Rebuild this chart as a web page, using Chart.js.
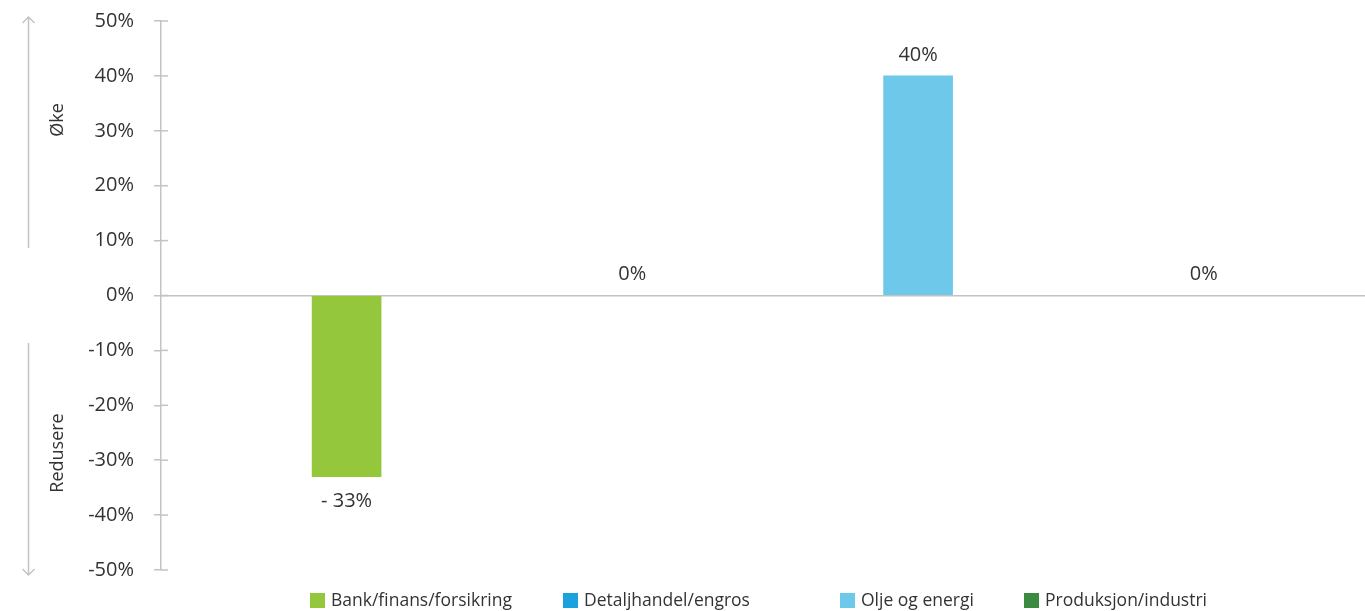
<!DOCTYPE html>
<html>
<head>
<meta charset="utf-8">
<script src="https://cdn.jsdelivr.net/npm/chart.js@4/dist/chart.umd.min.js"></script>
<style>
html,body{margin:0;padding:0;background:#fff;}
#wrap{width:1365px;height:611px;position:relative;}
</style>
</head>
<body>
<div id="wrap"><canvas id="c" width="1365" height="611"></canvas></div>
<script>
const categories = ["Bank/finans/forsikring", "Detaljhandel/engros", "Olje og energi", "Produksjon/industri"];
const values = [-33, 0, 40, 0];
const valueLabels = ["- 33%", "0%", "40%", "0%"];
const colors = ["#95c73d", "#1ba1db", "#6ec8ea", "#3a8b40"];
const yTicks = [-50, -40, -30, -20, -10, 0, 10, 20, 30, 40, 50];
const upLabel = "Øke";
const downLabel = "Redusere";

const FONT = "'Open Sans', 'Noto Sans', sans-serif";
const TEXT = "#333333";
const GRAY = "#c3c3c3";

const datasets = categories.map((name, i) => ({
  label: name,
  data: [{x: i + 1, y: values[i]}],
  backgroundColor: c => (c.raw && c.raw.y === 0) ? 'rgba(0,0,0,0)' : colors[i],
  borderWidth: 0
}));

const extras = {
  id: 'extras',
  afterDatasetsDraw(chart) {
    const ctx = chart.ctx;
    const y = chart.scales.y;
    const area = chart.chartArea;
    ctx.save();
    // tick marks to the right of the axis
    ctx.strokeStyle = GRAY;
    ctx.lineWidth = 1.5;
    yTicks.forEach(t => {
      const py = y.getPixelForValue(t);
      ctx.beginPath();
      ctx.moveTo(area.left, py);
      ctx.lineTo(area.left + 7, py);
      ctx.stroke();
    });
    // value labels
    ctx.fillStyle = TEXT;
    ctx.font = "20px " + FONT;
    ctx.textAlign = 'center';
    ctx.textBaseline = 'middle';
    chart.data.datasets.forEach((ds, i) => {
      const el = chart.getDatasetMeta(i).data[0];
      const v = values[i];
      const ly = v < 0 ? el.y + 25 : el.y - 21;
      ctx.fillText(valueLabels[i], el.x, ly);
    });
    // arrows
    ctx.strokeStyle = GRAY;
    ctx.lineWidth = 1.5;
    const ax = 28.5;
    ctx.beginPath();
    ctx.moveTo(ax, 248); ctx.lineTo(ax, 17);
    ctx.moveTo(ax - 6, 23); ctx.lineTo(ax, 17); ctx.lineTo(ax + 6, 23);
    ctx.moveTo(ax, 343); ctx.lineTo(ax, 575);
    ctx.moveTo(ax - 6, 569); ctx.lineTo(ax, 575); ctx.lineTo(ax + 6, 569);
    ctx.stroke();
    // rotated labels
    ctx.fillStyle = TEXT;
    ctx.font = "18px " + FONT;
    ctx.textAlign = 'center';
    ctx.textBaseline = 'middle';
    [[upLabel, 120], [downLabel, 453]].forEach(([txt, cy]) => {
      ctx.save();
      ctx.translate(58, cy);
      ctx.rotate(-Math.PI / 2);
      ctx.fillText(txt, 0, 0);
      ctx.restore();
    });
    // legend
    const legendX = [310, 563, 840, 1024];
    ctx.textAlign = 'left';
    ctx.textBaseline = 'middle';
    ctx.font = "17.5px " + FONT;
    chart.data.datasets.forEach((ds, i) => {
      ctx.fillStyle = colors[i];
      ctx.fillRect(legendX[i], 593, 15, 15);
      ctx.fillStyle = TEXT;
      ctx.fillText(ds.label, legendX[i] + 21, 601);
    });
    ctx.restore();
  }
};

const chart = new Chart(document.getElementById('c'), {
  type: 'bar',
  data: { datasets },
  options: {
    responsive: false,
    animation: false,
    events: [],
    layout: { padding: { top: 21, bottom: 41, right: 0, left: 0 } },
    datasets: { bar: { grouped: false, barThickness: 69 } },
    plugins: { legend: { display: false }, tooltip: { enabled: false } },
    scales: {
      x: {
        type: 'linear',
        display: false,
        offset: false,
        min: 0.3505,
        max: 4.564
      },
      y: {
        min: -50,
        max: 50,
        afterFit(scale) { scale.width = 161; scale.paddingTop = 0; scale.paddingBottom = 0; },
        afterBuildTicks(scale) { scale.ticks = yTicks.map(v => ({ value: v })); },
        border: { display: true, color: GRAY, width: 1.5 },
        grid: {
          drawOnChartArea: true,
          drawTicks: true,
          tickLength: 7,
          tickColor: GRAY,
          lineWidth: 1.5,
          color: ctx => (ctx.tick && ctx.tick.value === 0) ? GRAY : 'rgba(0,0,0,0)'
        },
        ticks: {
          padding: 20,
          color: TEXT,
          font: { family: FONT, size: 20 },
          callback: v => v + '%'
        }
      }
    }
  },
  plugins: [extras]
});
</script>
</body>
</html>
